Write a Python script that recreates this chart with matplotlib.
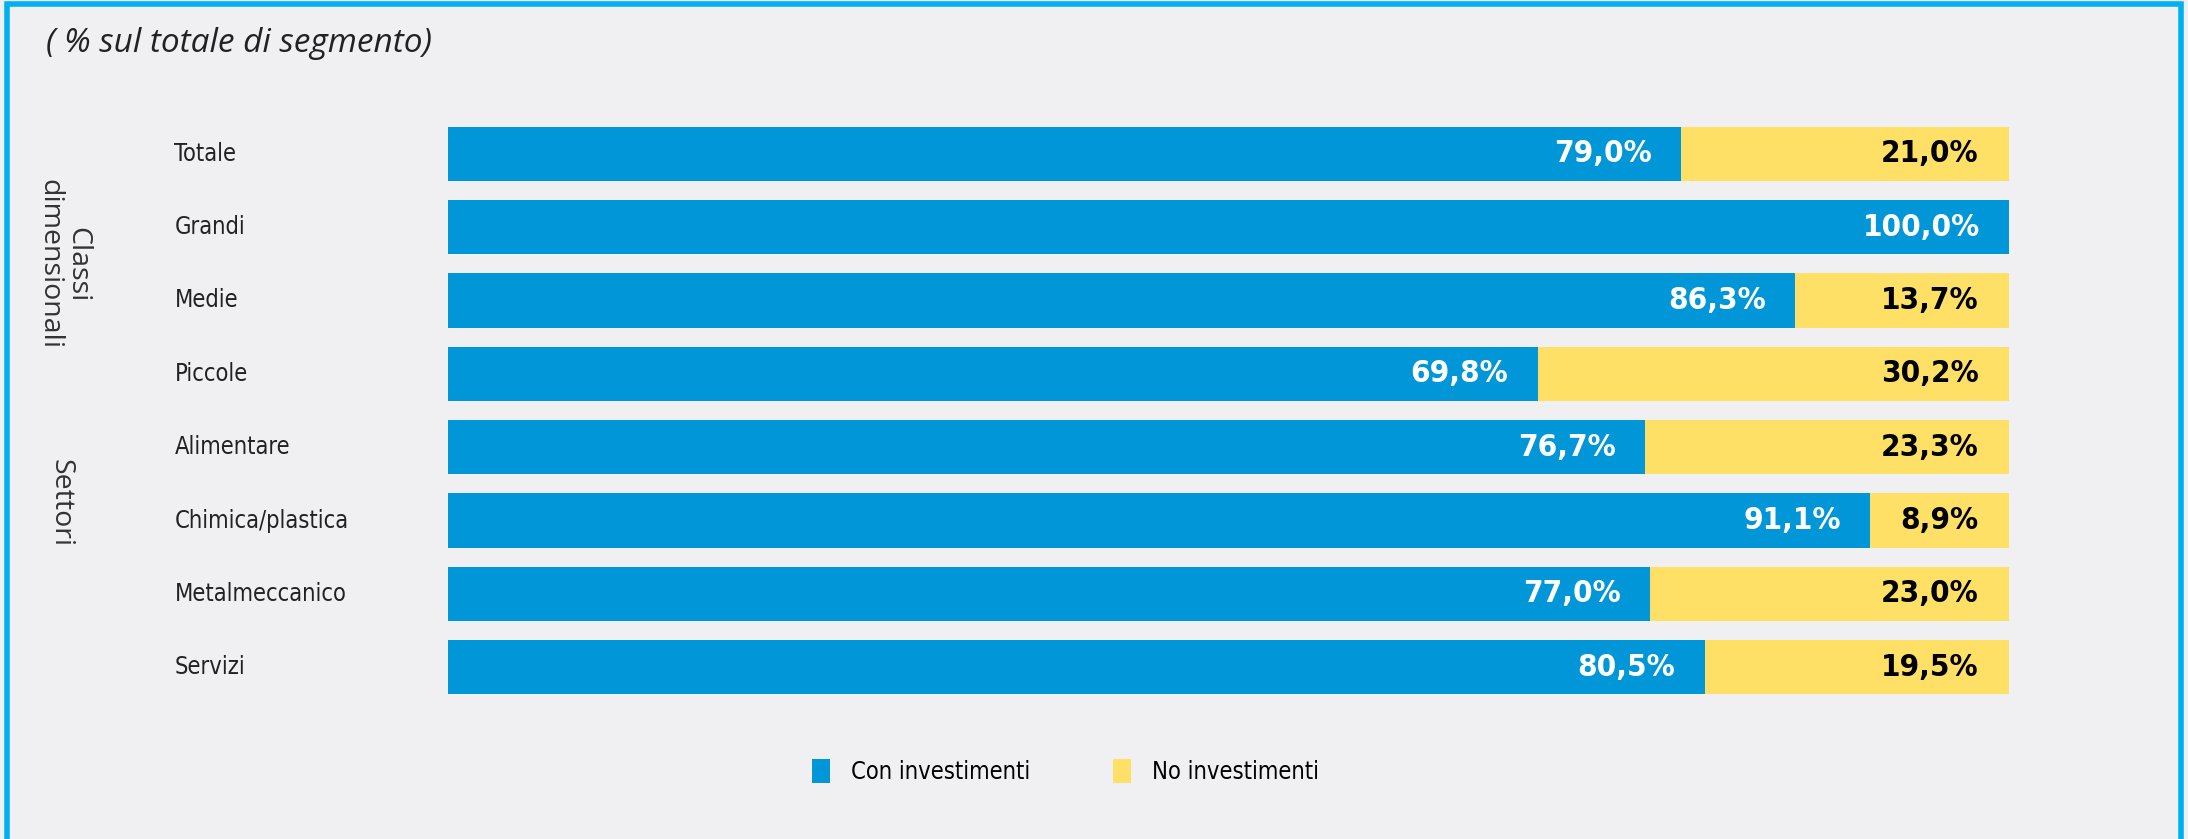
import numpy as np
import matplotlib.pyplot as plt
import matplotlib.patches as patches
import matplotlib.transforms as mtransforms
from matplotlib import font_manager

# data
categories = ["Totale", "Grandi", "Medie", "Piccole", "Alimentare",
              "Chimica/plastica", "Metalmeccanico", "Servizi"]
con_investimenti = [79.0, 100.0, 86.3, 69.8, 76.7, 91.1, 77.0, 80.5]
no_investimenti = [21.0, 0.0, 13.7, 30.2, 23.3, 8.9, 23.0, 19.5]
series_names = ["Con investimenti", "No investimenti"]

blue = "#0096d8"
yellow = "#ffe066"
bg = "#f0f0f2"

names = {f.name for f in font_manager.fontManager.ttflist}
if "Liberation Sans Narrow" in names:
    narrow = dict(family=["Liberation Sans Narrow", "DejaVu Sans"])
else:
    narrow = dict(family=["DejaVu Sans"], stretch="condensed")


def fmt(v):
    return f"{v:.1f}%".replace(".", ",")


fig = plt.figure(figsize=(21.88, 8.39), dpi=100, facecolor=bg)
ax = fig.add_axes([0.2048, 0.161, 0.7134, 0.6995])
ax.set_facecolor(bg)

y = np.arange(len(categories))
ax.barh(y, con_investimenti, height=0.74, color=blue, label=series_names[0])
ax.barh(y, no_investimenti, left=con_investimenti, height=0.74, color=yellow,
        label=series_names[1])
ax.set_xlim(0, 100)
ax.set_ylim(len(categories) - 0.5, -0.5)
ax.axis("off")

# value labels
for i in range(len(categories)):
    ax.annotate(fmt(con_investimenti[i]), (con_investimenti[i], i),
                xytext=(-21, 0), textcoords="offset points",
                ha="right", va="center", color="white", fontsize=22.5,
                fontweight="bold", **narrow)
    if no_investimenti[i] > 0:
        ax.annotate(fmt(no_investimenti[i]), (100, i),
                    xytext=(-22, 0), textcoords="offset points",
                    ha="right", va="center", color="black", fontsize=22.5,
                    fontweight="bold", **narrow)

# category labels
trans = mtransforms.blended_transform_factory(fig.transFigure, ax.transData)
for i, c in enumerate(categories):
    ax.text(0.0797, i, c, transform=trans, ha="left", va="center",
            fontsize=17, color="#222222", **narrow)

# group labels
fig.text(0.029, 0.685, "Classi\ndimensionali", rotation=270, ha="center",
         va="center", fontsize=20.5, color="#333333", family="Open Sans",
         linespacing=1.0, multialignment="center")
fig.text(0.0275, 0.401, "Settori", rotation=270, ha="center", va="center",
         fontsize=20.5, color="#333333", family="Open Sans")

# title
fig.text(0.021, 0.948, "( % sul totale di segmento)", ha="left", va="center",
         fontsize=24, style="italic", color="#222222", family="Open Sans")

# legend
leg_font = dict(narrow)
leg_font["size"] = 17
fig.legend(loc="center", bbox_to_anchor=(0.487, 0.081), ncol=2,
           frameon=False, handlelength=0.75, handleheight=1.2,
           handletextpad=0.9, columnspacing=3.5, prop=leg_font)

# cyan frame around the figure
frame = patches.Rectangle((0.003, -0.05), 0.994, 1.045, transform=fig.transFigure,
                          fill=False, edgecolor="#00b0f0", linewidth=4)
fig.patches.append(frame)

fig.savefig("out.png", dpi=100, facecolor=bg)
